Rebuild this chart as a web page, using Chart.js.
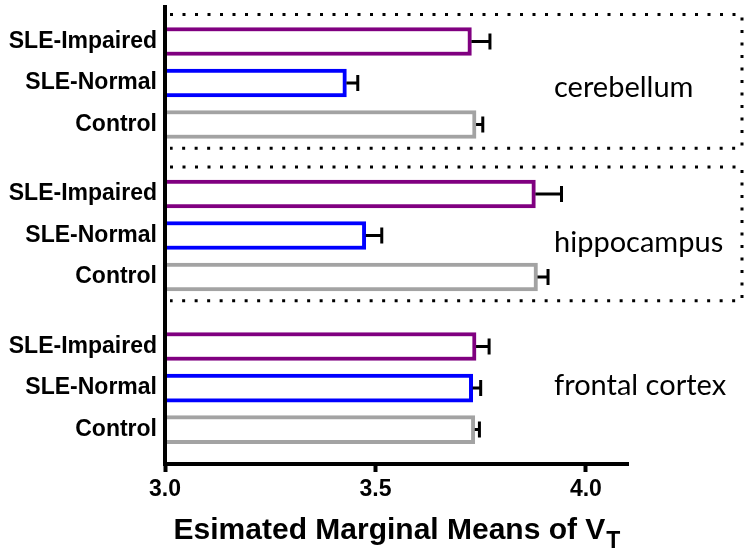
<!DOCTYPE html>
<html>
<head>
<meta charset="utf-8">
<script src="https://cdn.jsdelivr.net/npm/chart.js@4/dist/chart.umd.min.js"></script>
<style>
  html, body { margin: 0; padding: 0; background: #fff; }
  #wrap { width: 752px; height: 555px; position: relative; }
</style>
</head>
<body>
<div id="wrap"><canvas id="vtChart"></canvas></div>
<script>
// regions and groups, top to bottom
const regions = ['cerebellum', 'hippocampus', 'frontal cortex']
const groups = ['SLE-Impaired', 'SLE-Normal', 'Control']

// estimated marginal means of VT
const cerebellumMeans = [3.728, 3.431, 3.739]
const hippocampusMeans = [3.880, 3.477, 3.885]
const frontalMeans = [3.739, 3.731, 3.736]

// error bar lengths (upper side only)
const cerebellumErr = [0.044, 0.027, 0.016]
const hippocampusErr = [0.062, 0.038, 0.025]
const frontalErr = [0.031, 0.019, 0.011]

const xTicks = [3.0, 3.5, 4.0]

const groupColors = ['#800080', '#0000ff', '#a3a3a3']
const boxedRegions = ['cerebellum', 'hippocampus']

// spacing between region blocks, in row units
const GROUP_STEP = 3.675

const allMeans = [cerebellumMeans, hippocampusMeans, frontalMeans]
const allErr = [cerebellumErr, hippocampusErr, frontalErr]

const points = []
const colors = []
const errors = []
const rowNames = []
allMeans.forEach((m, g) => {
    m.forEach((v, r) => {
        points.push({ x: v, y: g * GROUP_STEP + r })
        colors.push(groupColors[r])
        errors.push(allErr[g][r])
        rowNames.push(groups[r])
    })
})

//error bars, dotted boxes, region names and axis title
const extras = {
    id: 'extras',
    beforeDatasetsDraw(chart) {
        const ctx = chart.ctx
        const ys = chart.scales.y
        const area = chart.chartArea
        ctx.save()
        ctx.strokeStyle = '#000'
        ctx.lineWidth = 3
        ctx.setLineDash([3, 9.5])
        regions.forEach((name, g) => {
            if (boxedRegions.indexOf(name) < 0) return
            const top = ys.getPixelForValue(g * GROUP_STEP - 0.65)
            const bottom = ys.getPixelForValue(g * GROUP_STEP + 2 + 0.57)
            const right = chart.width - 10
            ctx.beginPath()
            ctx.moveTo(area.left + 5, top)
            ctx.lineTo(right, top)
            ctx.lineTo(right, bottom)
            ctx.lineTo(area.left + 5, bottom)
            ctx.stroke()
        })
        ctx.restore()
    },
    afterDatasetsDraw(chart) {
        const ctx = chart.ctx
        const xs = chart.scales.x
        const ys = chart.scales.y
        const meta = chart.getDatasetMeta(0)
        ctx.save()
        ctx.strokeStyle = '#000'
        ctx.lineWidth = 3
        meta.data.forEach((bar, i) => {
            const xEnd = xs.getPixelForValue(points[i].x + errors[i])
            ctx.beginPath()
            ctx.moveTo(bar.x, bar.y)
            ctx.lineTo(xEnd, bar.y)
            ctx.moveTo(xEnd, bar.y - 8)
            ctx.lineTo(xEnd, bar.y + 8)
            ctx.stroke()
        })

        // region names beside the middle bar of each block
        ctx.fillStyle = '#000'
        ctx.font = '29px Lato'
        ctx.textAlign = 'left'
        ctx.textBaseline = 'alphabetic'
        const nudge = [14, 16, 7]
        regions.forEach((name, g) => {
            const y = ys.getPixelForValue(g * GROUP_STEP + 1)
            ctx.fillText(name, 554, y + nudge[g])
        })

        // x axis title with subscript T
        const area = chart.chartArea
        const main = 'Esimated Marginal Means of V'
        const bigFont = 'bold 30px "Liberation Sans", Arial, sans-serif'
        const subFont = 'bold 23px "Liberation Sans", Arial, sans-serif'
        ctx.font = bigFont
        const w1 = ctx.measureText(main).width
        ctx.font = subFont
        const w2 = ctx.measureText('T').width
        const x0 = (area.left + area.right) / 2 - (w1 + w2) / 2
        ctx.font = bigFont
        ctx.fillText(main, x0, 539)
        ctx.font = subFont
        ctx.fillText('T', x0 + w1 + 1, 548)
        ctx.restore()
    }
}

const ctx = document.getElementById('vtChart').getContext('2d')
const vtChart = new Chart(ctx, {
    type: 'bar',
    data: {
        datasets: [{
            data: points,
            backgroundColor: '#fff',
            borderColor: colors,
            borderWidth: 4,
            borderSkipped: 'start',
            barThickness: 28
        }]
    },
    options: {
        indexAxis: 'y',
        animation: false,
        responsive: true,
        maintainAspectRatio: false,
        layout: { padding: { top: 7, right: 124, left: 0, bottom: 0 } },
        plugins: {
            legend: { display: false },
            tooltip: { enabled: false }
        },
        scales: {
            x: {
                type: 'linear',
                min: 3.0,
                max: 4.1,
                afterBuildTicks(scale) {
                    scale.ticks = xTicks.map(v => ({ value: v }))
                },
                afterFit(scale) {
                    scale.height = 91
                    scale.paddingLeft = 0
                    scale.paddingRight = 0
                },
                grid: {
                    drawOnChartArea: false,
                    drawTicks: true,
                    tickLength: 8,
                    tickWidth: 4,
                    tickColor: '#000'
                },
                border: { display: true, width: 4, color: '#000', z: 1 },
                ticks: {
                    color: '#000',
                    padding: 4,
                    font: { family: '"Liberation Sans", Arial, sans-serif', size: 23, weight: 'bold' },
                    callback: (v) => Number(v).toFixed(1)
                }
            },
            y: {
                type: 'linear',
                reverse: true,
                offset: false,
                min: -0.831,
                max: 10.18,
                afterBuildTicks(scale) {
                    scale.ticks = points.map(p => ({ value: p.y }))
                },
                afterFit(scale) {
                    scale.width = 165
                    scale.paddingTop = 0
                    scale.paddingBottom = 0
                },
                grid: { display: false, drawTicks: false, offset: false },
                border: { display: true, width: 4, color: '#000', z: 1 },
                ticks: {
                    color: '#000',
                    padding: 8,
                    autoSkip: false,
                    font: { family: '"Liberation Sans", Arial, sans-serif', size: 23, weight: 'bold' },
                    callback: (v, i) => rowNames[i]
                }
            }
        }
    },
    plugins: [extras]
})
</script>
</body>
</html>
